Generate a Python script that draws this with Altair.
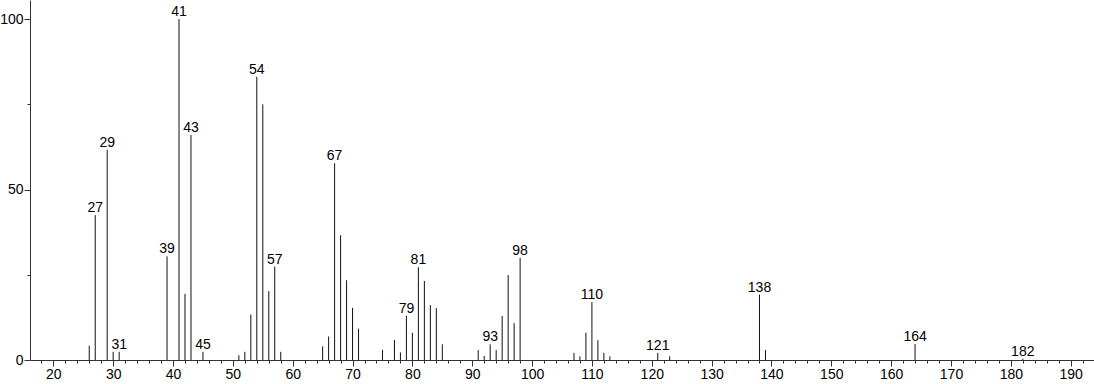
import altair as alt
import pandas as pd

mz = [26, 27, 29, 30, 31, 39, 41, 42, 43, 45, 51, 52, 53, 54, 55, 56, 57, 58,
      65, 66, 67, 68, 69, 70, 71, 75, 77, 78, 79, 80, 81, 82, 83, 84, 85,
      91, 92, 93, 94, 95, 96, 97, 98, 107, 108, 109, 110, 111, 112, 113,
      121, 123, 138, 139, 164, 182]
intensity = [4.2, 42.5, 61.7, 2.4, 2.4, 30.4, 100, 19.4, 66, 2.4, 1.4, 2.4, 13.3, 83.1, 75, 20.2, 27.4, 2.4,
             4.0, 6.9, 57.7, 36.6, 23.4, 15.3, 9.2, 3.0, 5.9, 2.2, 13.0, 8.0, 27.2, 23.2, 16.1, 15.2, 4.6,
             2.9, 1.2, 4.6, 2.9, 12.9, 24.9, 10.8, 30.0, 2.1, 1.1, 8.0, 17.0, 5.8, 2.1, 1.1,
             2.1, 1.1, 19.2, 2.9, 4.7, 0.4]
labeled = [27, 29, 31, 39, 41, 43, 45, 54, 57, 67, 79, 81, 93, 98, 110, 121, 138, 164, 182]
x_major = list(range(20, 200, 10))
x_minor = [v for v in range(18, 194, 2) if v % 10 != 0]
y_major = [0, 50, 100]
y_minor = [25, 75]

df = pd.DataFrame({"mz": mz, "intensity": intensity})

FONT = "Liberation Sans"
AXC = "#333"

xscale = alt.Scale(domain=[16.1, 193.9], nice=False, zero=False)
yscale = alt.Scale(domain=[0, 105.6], nice=False)

x_axis = alt.Axis(
    orient="bottom", values=x_major, format="d", title=None, grid=False,
    tickSize=6, labelFlush=False, labelOverlap=False, labelPadding=1,
    labelFont=FONT, labelFontSize=14, labelColor="#000",
    domainColor=AXC, tickColor=AXC, domainWidth=1, tickWidth=1,
)
y_axis = alt.Axis(
    orient="left", values=y_major, format="d", title=None, grid=False,
    tickSize=6, labelPadding=1, labelOverlap=False,
    labelFont=FONT, labelFontSize=14, labelColor="#000",
    domainColor=AXC, tickColor=AXC, domainWidth=1, tickWidth=1,
)
x_axis_minor = alt.Axis(
    orient="bottom", values=x_minor, title=None, grid=False, labels=False,
    domain=False, tickSize=3, tickColor=AXC, tickWidth=1,
)
y_axis_minor = alt.Axis(
    orient="left", values=y_minor, title=None, grid=False, labels=False,
    domain=False, tickSize=3, tickColor=AXC, tickWidth=1,
)

base = alt.Chart(df)
rules = base.mark_rule(color="#111", strokeWidth=1).encode(
    x=alt.X("mz:Q", scale=xscale, axis=x_axis),
    y=alt.Y("intensity:Q", scale=yscale, axis=y_axis),
    y2=alt.datum(0),
)
labels = base.transform_filter(
    alt.FieldOneOfPredicate(field="mz", oneOf=labeled)
).mark_text(
    font=FONT, fontSize=14, color="#000", baseline="alphabetic", align="center", dy=-3
).encode(
    x=alt.X("mz:Q", scale=xscale, axis=x_axis_minor),
    y=alt.Y("intensity:Q", scale=yscale, axis=y_axis_minor),
    text=alt.Text("mz:Q", format="d"),
)

chart = alt.layer(rules, labels).resolve_axis(
    x="independent", y="independent"
).properties(
    width=1064, height=360,
    padding={"left": 30, "top": 0, "right": 0, "bottom": 24},
    autosize="none",
    background="white",
).configure_view(stroke=None)

chart.save("out.html", embed_options={"renderer": "svg", "actions": False})
